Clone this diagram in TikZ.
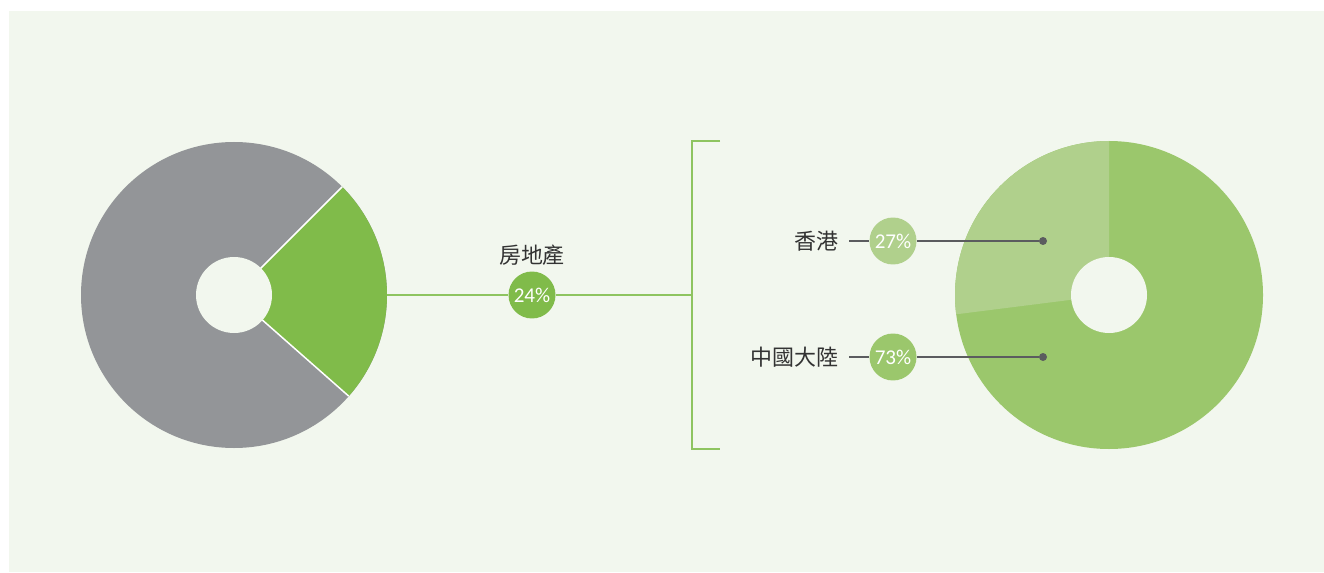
\documentclass[tikz,border=0pt]{standalone}
\usepackage{fontspec}
\newfontfamily\cjk{Noto Sans CJK TC}
\newfontfamily\numfont{Carlito}
\usepackage{tikz}
\definecolor{bggreen}{HTML}{F2F7EE}
\definecolor{piegray}{HTML}{939598}
\definecolor{piegreen}{HTML}{80BB4A}
\definecolor{linegreen}{HTML}{8EC460}
\definecolor{hkgreen}{HTML}{B0D08C}
\definecolor{cngreen}{HTML}{9BC76C}
\definecolor{darkline}{HTML}{5B5C5F}
\definecolor{txtgray}{HTML}{333333}
\tikzset{
  pctnode/.style={circle, minimum size=0.94cm, inner sep=0mm,
    text=white, font=\numfont\fontsize{12pt}{12pt}\selectfont
  },
  lbl/.style={inner xsep=5.7pt, inner ysep=0pt, text=txtgray,
    font=\cjk\fontsize{12.5pt}{12.5pt}\selectfont
  },
  dotnode/.style={circle, fill=darkline, minimum size=0.16cm, inner sep=0mm
  },
  greenline/.style={draw=linegreen, line width=0.6pt
  },
  grayline/.style={draw=darkline, line width=0.75pt
  }
}

\begin{document}
\begin{tikzpicture}[x=0.02cm, y=0.02cm]
   \useasboundingbox (0,0) rectangle (1324,572);
   \fill[bggreen] (9,0) rectangle (1324,561);

   % left ring
   \fill[piegray] (234,277) circle (153);
   \fill[piegreen] (234,277) -- ++(-41.4:153) arc (-41.4:45:153) -- cycle;
   \draw[white, line width=0.85pt] (234,277) -- ++(-41.4:153);
   \draw[white, line width=0.85pt] (234,277) -- ++(45:153);
   \fill[bggreen] (234,277) circle (38);
   \coordinate (wedge) at (387,277);

   % right ring
   \fill[cngreen] (1109,277) circle (154);
   \fill[hkgreen] (1109,277) -- ++(90:154) arc (90:187.2:154) -- cycle;
   \fill[bggreen] (1109,277) circle (38);

   % bracket
   \coordinate (brk) at (692,277);
   \draw[greenline] (720,431) -- (692,431) -- (692,123) -- (720,123);

   \node[pctnode, fill=piegreen] (p24) at (532,277) {24\%};
   \node[lbl] (re) at (532,317) {房地產};
   \draw[greenline] (wedge) -- (p24) -- (brk);

   \node[lbl, anchor=east] (hk) at (849,331) {香港};
   \node[pctnode, fill=hkgreen] (p27) at (893,331) {27\%};
   \node[dotnode] (d27) at (1043,331) {};
   \draw[grayline] (hk) -- (p27) -- (d27);

   \node[lbl, anchor=east] (cn) at (849,215) {中國大陸};
   \node[pctnode, fill=cngreen] (p73) at (893,215) {73\%};
   \node[dotnode] (d73) at (1043,215) {};
   \draw[grayline] (cn) -- (p73) -- (d73);
\end{tikzpicture}
\end{document}
